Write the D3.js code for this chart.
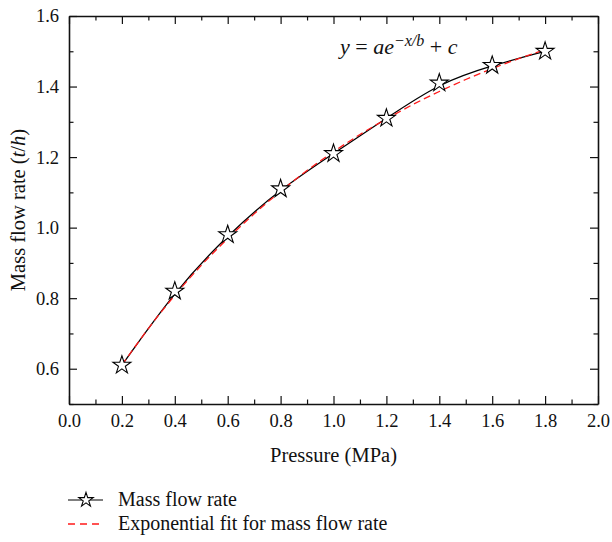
<!DOCTYPE html>
<html>
<head>
<meta charset="utf-8">
<script src="https://cdn.jsdelivr.net/npm/d3@7"></script>
<style>
  html, body { margin: 0; padding: 0; background: #fff; }
  svg { display: block; }
</style>
</head>
<body>
<svg id="chart" width="612" height="542"></svg>
<script>
// Measured mass flow rate against inlet pressure
const pressure = [0.2, 0.4, 0.6, 0.8, 1.0, 1.2, 1.4, 1.6, 1.8];
const massFlow = [0.61, 0.82, 0.98, 1.11, 1.21, 1.31, 1.41, 1.46, 1.50];

// Exponential fit y = a*exp(-x/b) + c, sampled every 0.1 MPa
const fitPressure = [0.2, 0.3, 0.4, 0.5, 0.6, 0.7, 0.8, 0.9, 1.0, 1.1, 1.2, 1.3, 1.4, 1.5, 1.6, 1.7, 1.8];
const fitFlow = [0.610, 0.714, 0.808, 0.893, 0.969, 1.039, 1.103, 1.162, 1.215, 1.264, 1.308, 1.349, 1.386, 1.420, 1.451, 1.479, 1.505];

const xTicks = [0.0, 0.2, 0.4, 0.6, 0.8, 1.0, 1.2, 1.4, 1.6, 1.8, 2.0];
const xMinor = [0.1, 0.3, 0.5, 0.7, 0.9, 1.1, 1.3, 1.5, 1.7, 1.9];
const yTicks = [0.6, 0.8, 1.0, 1.2, 1.4, 1.6];
const yMinor = [0.5, 0.7, 0.9, 1.1, 1.3, 1.5];

const legendLabels = ["Mass flow rate", "Exponential fit for mass flow rate"];

const FONT = "'Liberation Serif', 'Times New Roman', serif";
const svg = d3.select("#chart");
const m = { left: 69, top: 16, right: 598, bottom: 404 };

const x = d3.scaleLinear().domain([0, 2.0]).range([m.left, m.right]);
const y = d3.scaleLinear().domain([0.5, 1.6]).range([m.bottom, m.top]);

const tickFont = 18.5, titleFont = 20.5;
const major = 8, minor = 4.5;

function addAxis(axisFn, scale, transform, majors, minors, labelled) {
  const g = svg.append("g").attr("transform", transform);
  const a = axisFn(scale).tickValues(majors).tickSizeInner(-major).tickSizeOuter(0).tickPadding(10);
  a.tickFormat(labelled ? d3.format(".1f") : () => "");
  g.call(a);
  g.append("g")
    .call(axisFn(scale).tickValues(minors).tickFormat(() => "").tickSizeInner(-minor).tickSizeOuter(0))
    .select(".domain").remove();
  return g;
}

addAxis(d3.axisBottom, x, `translate(0,${m.bottom})`, xTicks, xMinor, true);
addAxis(d3.axisTop, x, `translate(0,${m.top})`, xTicks, xMinor, false);
addAxis(d3.axisLeft, y, `translate(${m.left},0)`, yTicks, yMinor, true);
addAxis(d3.axisRight, y, `translate(${m.right},0)`, yTicks, yMinor, false);

svg.selectAll(".domain").attr("stroke", "#111").attr("stroke-width", 1.6);
svg.selectAll(".tick line").attr("stroke", "#111").attr("stroke-width", 1.2);
svg.selectAll(".tick text")
  .style("font-family", FONT).style("font-size", tickFont + "px").attr("fill", "#111");

// Axis titles
svg.append("text")
  .attr("x", (m.left + m.right) / 2).attr("y", 462)
  .attr("text-anchor", "middle")
  .style("font-family", FONT).style("font-size", titleFont + "px").attr("fill", "#111")
  .text("Pressure (MPa)");

const yt = svg.append("text")
  .attr("transform", `translate(25,${(m.top + m.bottom) / 2}) rotate(-90)`)
  .attr("text-anchor", "middle")
  .style("font-family", FONT).style("font-size", titleFont + "px").attr("fill", "#111");
yt.append("tspan").text("Mass flow rate (");
yt.append("tspan").style("font-style", "italic").text("t");
yt.append("tspan").text("/");
yt.append("tspan").style("font-style", "italic").text("h");
yt.append("tspan").text(")");

// Fit equation
const eq = svg.append("text").attr("x", 340).attr("y", 54)
  .style("font-family", FONT).style("font-size", "22px").attr("fill", "#111");
eq.append("tspan").style("font-style", "italic").text("y");
eq.append("tspan").text(" = ");
eq.append("tspan").style("font-style", "italic").text("ae");
eq.append("tspan").attr("dy", -8).style("font-size", "16px").style("font-style", "italic").text("−x/b");
eq.append("tspan").attr("dy", 8).text(" + ");
eq.append("tspan").style("font-style", "italic").text("c");

// Series
const pts = pressure.map((p, i) => [p, massFlow[i]]);
const fit = fitPressure.map((p, i) => [p, fitFlow[i]]);

const smooth = d3.line().x(d => x(d[0])).y(d => y(d[1])).curve(d3.curveBasis);
const fitLine = d3.line().x(d => x(d[0])).y(d => y(d[1])).curve(d3.curveNatural);

svg.append("path").datum(pts).attr("d", smooth)
  .attr("fill", "none").attr("stroke", "#000").attr("stroke-width", 1.3);
svg.append("path").datum(fit).attr("d", fitLine)
  .attr("fill", "none").attr("stroke", "#ff1a1a").attr("stroke-width", 1.3)
  .attr("stroke-dasharray", "7,4");

const star = d3.symbol().type(d3.symbolStar).size(100);
svg.append("g").selectAll("path").data(pts).join("path")
  .attr("transform", d => `translate(${x(d[0])},${y(d[1])})`)
  .attr("d", star).attr("fill", "#fff").attr("stroke", "#000").attr("stroke-width", 1.1);

// Legend
const lg = svg.append("g");
const ly = [500, 524];
lg.append("line").attr("x1", 68).attr("x2", 103).attr("y1", ly[0]).attr("y2", ly[0])
  .attr("stroke", "#000").attr("stroke-width", 1.2);
lg.append("path").attr("transform", `translate(86,${ly[0]})`)
  .attr("d", d3.symbol().type(d3.symbolStar).size(65))
  .attr("fill", "#fff").attr("stroke", "#000").attr("stroke-width", 1.1);
lg.append("line").attr("x1", 68).attr("x2", 103).attr("y1", ly[1]).attr("y2", ly[1])
  .attr("stroke", "#ff1a1a").attr("stroke-width", 1.3).attr("stroke-dasharray", "7,5");
lg.selectAll("text.lbl").data(legendLabels).join("text").attr("class", "lbl")
  .attr("x", 118).attr("y", (d, i) => ly[i] + 6)
  .style("font-family", FONT).style("font-size", "20px").attr("fill", "#111")
  .text(d => d);
</script>
</body>
</html>
